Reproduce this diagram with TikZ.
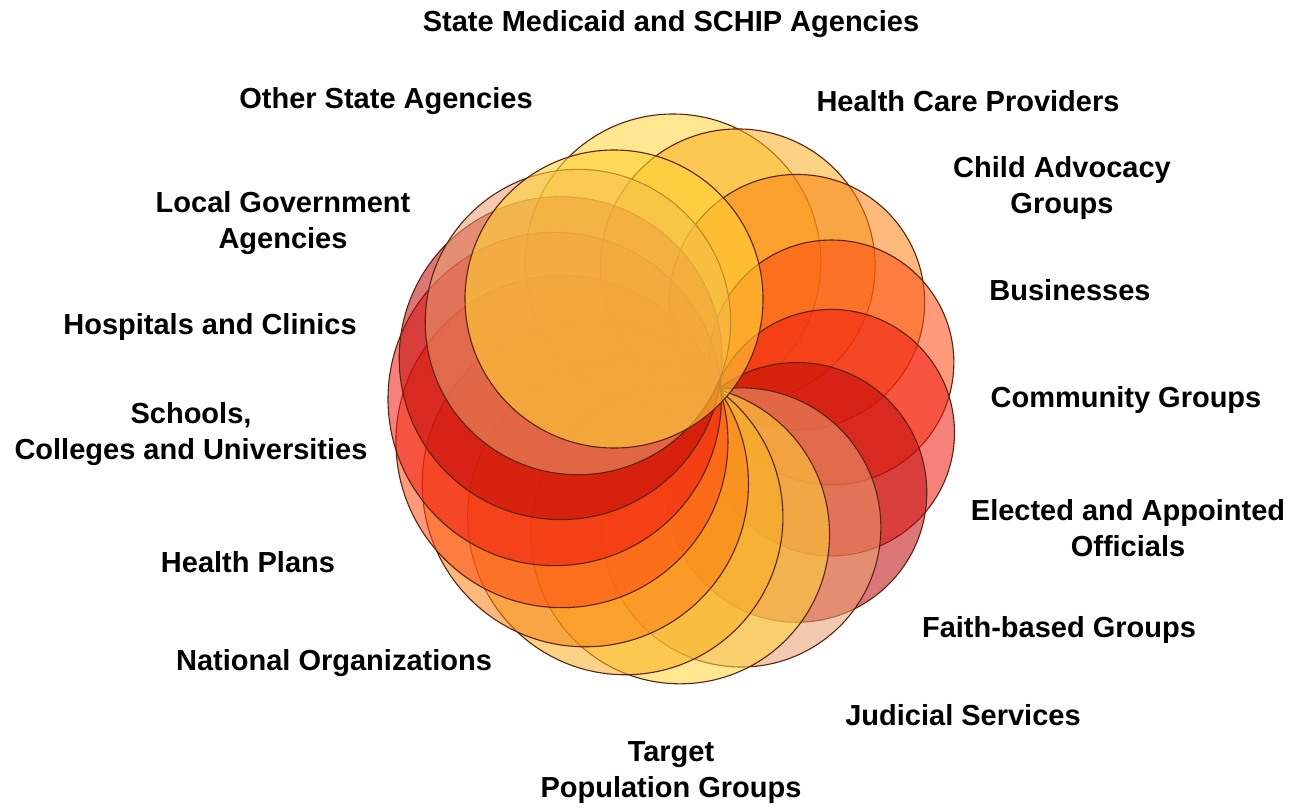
\documentclass[tikz,border=0pt]{standalone}
\usepackage{fontspec}
\setmainfont{Liberation Sans}
\definecolor{cY}{HTML}{FFD235}
\definecolor{cG}{HTML}{FAB020}
\definecolor{cO}{HTML}{FA8010}
\definecolor{cOR}{HTML}{FF4A10}
\definecolor{cR}{HTML}{F01A10}
\definecolor{cDR}{HTML}{C00808}
\definecolor{cS}{HTML}{EAA070}
\definecolor{outl}{HTML}{5B2410}
\begin{document}
\begin{tikzpicture}[x=1pt,y=-1pt,
  lab/.style={font=\fontsize{29}{36}\selectfont\bfseries, align=center, inner sep=0pt},
  ring/.style={draw=outl, line width=1.1pt},
  disc/.style={fill opacity=0.55}]
\useasboundingbox (0,0) rectangle (1289,807);
\fill[white] (0,0) rectangle (1289,807);
% envelope centre C, envelope radius R, offset w = C - P (P = meeting point), all in units of 100
\def\Cx{6.73}\def\Cy{3.99}\def\R{2.85}\def\Wx{-0.62}\def\Wy{0.04}\def\Dz{1.36}\def\Lam{0.72}
\foreach \a/\col/\dr in {90/cY/0,64/cG/0,38/cO/0,13/cOR/0,-12/cR/0,-37/cDR/0,-62/cS/0,
    -87/cY/0,-112/cG/0,-136/cO/0,-159/cOR/0,-180/cR/0,-200/cDR/0.04,-219/cS/0.10} {
  \pgfmathsetmacro\wu{\Wx*cos(\a) - \Wy*sin(\a)}
  \pgfmathsetmacro\dB{(\R*\R - \Wx*\Wx - \Wy*\Wy)/(2*\wu + 2*\R)}
  \pgfmathsetmacro\d{\Lam*\dB + (1-\Lam)*\Dz}
  \pgfmathsetmacro\rr{100*(\R-\d-\dr)}
  \pgfmathsetmacro\cx{100*(\Cx + \d*cos(\a))}
  \pgfmathsetmacro\cy{100*(\Cy - \d*sin(\a))}
  \fill[\col, disc] (\cx,\cy) circle[radius=\rr pt];
  \draw[ring] (\cx,\cy) circle[radius=\rr pt];
}
% front circle
\fill[cY, fill opacity=0.6] (614,299) circle[radius=149pt];
\draw[ring] (614,299) circle[radius=149pt];
\node[lab] (smsa) at (671,24) {State Medicaid and SCHIP Agencies};
\node[lab] (osa) at (386,101) {Other State Agencies};
\node[lab] (hcp) at (968,101) {Health Care Providers};
\node[lab] (lga) at (283,223) {Local Government\\Agencies};
\node[lab] (cag) at (1062,188) {Child Advocacy\\Groups};
\node[lab] (hac) at (210,327) {Hospitals and Clinics};
\node[lab] (bus) at (1070,290) {Businesses};
\node[lab] (scu) at (191,434) {Schools,\\Colleges and Universities};
\node[lab] (cg) at (1126,400) {Community Groups};
\node[lab] (eao) at (1128,528) {Elected and Appointed\\Officials};
\node[lab] (hp) at (248,562) {Health Plans};
\node[lab] (fbg) at (1059,630) {Faith-based Groups};
\node[lab] (no) at (334,663) {National Organizations};
\node[lab] (js) at (963,715) {Judicial Services};
\node[lab] (tpg) at (671,773) {Target\\Population Groups};
\end{tikzpicture}
\end{document}
